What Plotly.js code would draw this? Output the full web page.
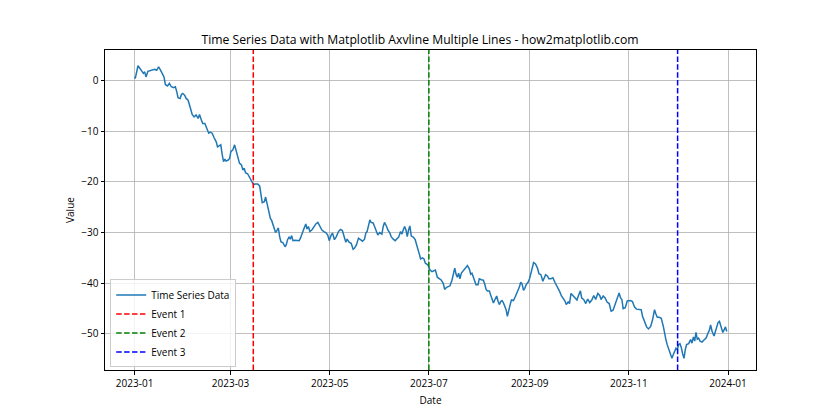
<!DOCTYPE html>
<html>
<head>
<meta charset="utf-8">
<script src="https://cdn.plot.ly/plotly-3.0.1.min.js"></script>
<style>html,body{margin:0;padding:0;background:#fff;}#chart{width:840px;height:420px;}</style>
</head>
<body>
<div id="chart"></div>
<script>
// Day offsets from 2023-01-01 and the read-off values
const dayOffsets = [
0,0.4,2.1,3.3,4.5,5.4,6.2,7.0,8.2,9.9,11.1,12.3,13.6,14.8,16.0,17.3,18.1,18.9,20.2,21.4,22.6,23.9,25.1,25.9,26.7,28.0,28.8,29.6,30.8,31.7,32.9,34.1,35.4,36.6,37.8,39.1,39.9,41.1,41.9,43.2,44.4,45.6,46.5,47.7,48.9,50.2,51.0,52.2,53.0,53.9,54.7,55.5,56.3,57.6,58.4,59.2,60.4,61.5,
62.9,64.5,65.8,66.6,67.4,68.2,69.5,70.7,71.9,73.2,74.0,75.7,76.9,77.7,78.5,79.8,80.6,81.4,82.6,83.5,84.3,85.5,86.7,87.5,88.4,89.2,90.0,91.3,92.5,93.3,94.1,95.0,95.8,96.6,97.4,98.7,99.9,101.2,102.0,102.8,104.1,105.3,106.1,106.9,107.8,109.0,110.2,111.5,112.7,113.9,115.2,116.4,117.6,118.8,119.7,
120.9,121.7,122.9,124.1,125.4,126.6,127.8,129.0,129.9,130.7,131.9,133.2,134.4,135.2,136.5,137.7,138.9,140.2,141.4,142.2,143.0,143.9,144.7,145.5,146.7,147.6,148.8,149.6,150.8,152.1,152.9,153.7,155.0,155.8,157.0,157.8,159.1,160.3,161.1,162.4,163.6,164.4,165.2,166.1,166.9,167.7,168.5,169.3,170.2,171.4,172.6,173.4,174.3,175.1,175.9,177.1,178.0,178.8,180.5,
181.7,182.9,184.1,185.0,186.2,187.4,188.7,189.9,190.7,191.9,193.2,194.0,195.2,196.0,196.9,197.7,198.5,199.3,200.1,201.0,202.2,203.4,204.7,205.9,206.7,207.5,208.4,209.2,210.0,211.2,212.0,213.3,214.5,215.3,216.2,217.0,218.2,219.0,219.9,220.7,221.5,222.7,223.6,224.4,225.2,226.0,226.8,227.7,228.5,229.3,230.1,231.0,231.8,233.0,234.2,235.1,235.9,236.7,237.5,238.3,239.2,240.0,240.8,242.0,242.9,243.7,244.5,245.4,
246.6,247.8,248.7,249.9,251.1,251.9,252.8,254.0,254.8,256.1,257.3,258.5,259.3,260.6,261.4,262.6,263.4,264.7,265.5,266.7,267.5,268.4,269.6,270.9,272.1,272.9,274.2,275.0,276.2,277.5,278.7,279.9,281.2,282.4,283.6,284.9,286.1,286.9,288.2,289.4,290.6,291.9,293.1,294.3,295.6,296.8,298.0,298.9,299.7,300.5,301.8,303.0,
305.0,306.2,307.5,308.7,310.4,311.6,312.4,313.7,314.9,316.1,317.4,318.6,319.8,320.6,321.5,322.7,323.9,325.2,326.0,326.8,327.6,328.5,329.7,330.5,331.3,332.2,333.0,333.8,334.6,335.4,336.2,337.1,337.9,338.7,339.5,340.8,342.0,342.8,343.7,344.5,345.3,346.1,346.9,347.8,349.0,350.2,351.5,352.7,353.5,354.3,355.2,356.4,357.6,358.9,359.7,360.5,361.8,362.6,363.4,364.2
];
const seriesValues = [
0.7,0.4,2.9,2.4,2.0,1.4,1.7,0.7,1.8,2.0,2.0,2.2,2.0,2.7,2.0,1.0,0.7,-0.8,-1.1,-0.6,-1.25,-1.45,-1.25,-2.2,-3.4,-3.55,-2.76,-2.57,-2.9,-3.55,-3.9,-5.2,-6.7,-7.2,-6.8,-7.5,-6.7,-7.8,-8.5,-8.5,-9.45,-10.4,-10.2,-10.4,-11.3,-12.1,-13.1,-12.9,-12.7,-14.7,-16.0,-15.5,-15.9,-15.7,-15.4,-14.05,-13.7,-12.7,
-14.4,-16.3,-16.7,-17.7,-17.3,-18.2,-18.4,-19.1,-20.0,-20.6,-20.4,-20.4,-20.8,-22.2,-24.1,-23.9,-23.0,-24.2,-25.9,-27.2,-27.6,-28.8,-30.0,-29.6,-29.1,-30.8,-31.8,-32.0,-32.8,-32.4,-31.4,-30.9,-31.3,-30.6,-31.6,-31.5,-31.5,-31.6,-31.1,-30.3,-29.3,-28.3,-29.3,-28.8,-29.8,-29.5,-28.9,-28.3,-28.0,-28.8,-29.5,-29.8,-30.0,-30.5,-31.6,
-30.5,-30.1,-31.4,-30.8,-29.8,-29.4,-29.6,-30.8,-31.9,-31.3,-31.9,-32.1,-33.3,-33.1,-32.4,-31.1,-31.4,-31.7,-31.3,-30.1,-29.8,-28.5,-27.5,-28.0,-28.1,-28.8,-29.8,-30.5,-30.0,-30.3,-28.8,-28.0,-28.8,-29.5,-30.1,-30.8,-31.3,-31.6,-31.3,-30.9,-29.8,-30.3,-29.5,-28.8,-29.5,-30.8,-29.5,-28.7,-30.7,-30.9,-31.4,-32.2,-33.1,-34.2,-35.2,-35.0,-35.2,-36.0,-36.4,
-37.4,-37.7,-37.5,-37.4,-38.8,-39.1,-39.4,-40.1,-41.2,-40.8,-40.7,-40.5,-39.4,-38.5,-37.0,-38.2,-38.8,-38.0,-39.1,-38.0,-37.5,-36.9,-36.5,-37.2,-38.2,-38.0,-38.8,-39.7,-40.3,-40.3,-39.1,-39.3,-39.4,-40.1,-41.2,-41.5,-41.5,-42.3,-43.4,-43.9,-43.3,-42.5,-43.6,-44.2,-43.6,-43.4,-43.8,-44.4,-45.2,-46.5,-45.2,-44.2,-43.3,-43.4,-42.6,-42.0,-41.4,-40.7,-39.8,-40.1,-41.4,-41.0,-40.3,-39.8,-39.1,-38.0,-36.9,-35.9,
-36.2,-37.0,-38.1,-38.3,-39.6,-38.9,-38.3,-38.6,-39.1,-39.1,-38.9,-39.8,-40.3,-40.9,-41.6,-42.5,-42.9,-43.5,-44.2,-43.7,-44.0,-42.0,-42.4,-42.9,-43.3,-42.5,-41.5,-42.9,-43.2,-44.0,-43.1,-43.8,-43.3,-42.4,-43.2,-42.0,-42.4,-43.2,-42.5,-42.9,-43.7,-44.0,-45.5,-45.3,-44.2,-43.2,-41.9,-42.9,-43.2,-45.0,-44.8,-43.5,
-43.4,-43.6,-44.7,-45.1,-45.1,-45.2,-46.5,-47.8,-48.6,-49.0,-48.5,-47.2,-45.2,-46.0,-46.7,-46.7,-46.9,-48.5,-50.3,-51.1,-52.1,-53.1,-54.1,-54.8,-54.1,-53.3,-52.8,-53.1,-52.1,-51.9,-52.6,-53.9,-54.8,-53.1,-52.1,-51.9,-51.1,-51.8,-50.6,-51.4,-49.7,-51.0,-50.8,-51.4,-51.6,-51.2,-50.8,-49.8,-49.3,-48.2,-49.5,-50.4,-48.9,-47.7,-47.5,-48.5,-49.7,-49.2,-48.6,-49.5
];
const eventDates = ['2023-03-15', '2023-07-01', '2023-12-01'];
const eventNames = ['Event 1', 'Event 2', 'Event 3'];
const eventColors = ['#ff0000', '#008000', '#0000ff'];
const xTickVals = ['2023-01-01','2023-03-01','2023-05-01','2023-07-01','2023-09-01','2023-11-01','2024-01-01'];
const xTickText = ['2023-01','2023-03','2023-05','2023-07','2023-09','2023-11','2024-01'];
const yTickVals = [-50,-40,-30,-20,-10,0];
const xRange = ['2022-12-13 19:00', '2024-01-18 05:00'];
const yRange = [-57.1, 6.0];

function pad(n){return (n<10?'0':'')+n;}
const base = Date.UTC(2023,0,1);
const dates = dayOffsets.map(d => {
  const t = new Date(base + Math.round(d*24)*3600000);
  return t.getUTCFullYear()+'-'+pad(t.getUTCMonth()+1)+'-'+pad(t.getUTCDate())+' '+pad(t.getUTCHours())+':00';
});

const font = "'Open Sans', 'DejaVu Sans', sans-serif";
const traces = [{
  x: dates, y: seriesValues, type: 'scatter', mode: 'lines', name: 'Time Series Data',
  line: {color: '#1f77b4', width: 1.5}
}];
eventDates.forEach((d,i) => {
  traces.push({
    x: [d, d], y: yRange, type: 'scatter', mode: 'lines', name: eventNames[i],
    line: {color: eventColors[i], width: 1.5, dash: '5.5px,2.4px'}
  });
});

const layout = {
  width: 840, height: 420,
  margin: {l: 105, r: 84, t: 50, b: 50},
  paper_bgcolor: '#fff', plot_bgcolor: '#fff',
  font: {family: font, size: 10, color: '#000'},
  title: {text: 'Time Series Data with Matplotlib Axvline Multiple Lines - how2matplotlib.com',
          font: {family: font, size: 12.2, color: '#000'}, x: 0.5, xanchor: 'center', y: 0.905, yanchor: 'middle'},
  xaxis: {
    type: 'date', range: xRange, tickvals: xTickVals, ticktext: xTickText,
    showgrid: true, gridcolor: '#b0b0b0', gridwidth: 0.8,
    showline: true, linecolor: '#000', linewidth: 1, mirror: true,
    ticks: 'outside', ticklen: 3.5, tickcolor: '#000', zeroline: false,
    title: {text: 'Date', font: {family: font, size: 10}, standoff: 8}
  },
  yaxis: {
    range: yRange, tickvals: yTickVals,
    showgrid: true, gridcolor: '#b0b0b0', gridwidth: 0.8,
    showline: true, linecolor: '#000', linewidth: 1, mirror: true,
    ticks: 'outside', ticklen: 3.5, tickcolor: '#000', zeroline: false,
    title: {text: 'Value', font: {family: font, size: 10}, standoff: 4}
  },
  showlegend: true,
  legend: {x: 0.008, y: 0.008, xanchor: 'left', yanchor: 'bottom',
           bgcolor: 'rgba(255,255,255,0.8)', bordercolor: '#cccccc', borderwidth: 1,
           font: {family: font, size: 10}, tracegroupgap: 0, itemwidth: 30}
};
Plotly.newPlot('chart', traces, layout, {displayModeBar: false, staticPlot: true});
</script>
</body>
</html>
